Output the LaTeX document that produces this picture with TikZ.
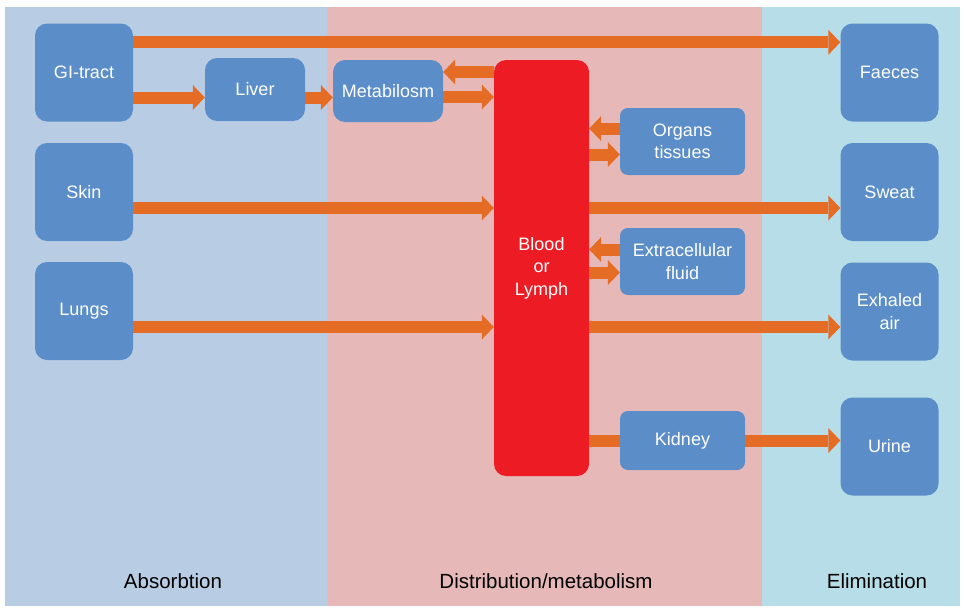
\documentclass[tikz,border=0pt]{standalone}
\usepackage{fontspec}
\setmainfont{Liberation Sans}
\usetikzlibrary{arrows.meta}

\definecolor{absorb}{RGB}{184,204,228}
\definecolor{distrib}{RGB}{230,185,184}
\definecolor{elimin}{RGB}{183,222,232}
\definecolor{organ}{RGB}{91,142,201}
\definecolor{flow}{RGB}{228,108,36}
\definecolor{bloodred}{RGB}{237,28,36}

\begin{document}
\begin{tikzpicture}[x=1pt,y=-1pt]
        \tikzstyle{every node}=[font=\fontsize{18}{22.5}\selectfont]
        \tikzstyle{box}=[fill=organ,text=white,rounded corners=12pt,align=center,inner sep=0pt]
        \tikzstyle{big}=[box,minimum width=98pt,minimum height=98pt]
        \tikzstyle{small}=[box,rounded corners=8pt,minimum width=125pt,minimum height=67pt]
        \tikzstyle{arr}=[draw=flow,line width=12pt,-{Triangle[length=12pt,width=25pt,line width=0pt]}]
        \tikzstyle{bar}=[draw=flow,line width=12pt]
        \tikzstyle{phase}=[font=\fontsize{20.5}{24}\selectfont]
        \useasboundingbox (0,0) rectangle (964,608);
        % the three phases
        \fill[absorb] (5,7) rectangle (327,606);
        \fill[distrib] (327,7) rectangle (762,606);
        \fill[elimin] (762,7) rectangle (960,606);
        \node[phase] (ab) at (173,581) {Absorbtion};
        \node[phase] (di) at (546,581) {Distribution/metabolism};
        \node[phase] (el) at (877,581) {Elimination};
        % entry routes
        \node[big] (gi) at (84,72.5) {GI-tract};
        \node[big] (skin) at (84,192) {Skin};
        \node[big] (lungs) at (84,311) {Lungs};
        \node[box,minimum width=100pt,minimum height=63pt] (liver) at (255,89.5) {Liver};
        \node[box,minimum width=110pt,minimum height=62pt] (meta) at (388,91) {Metabilosm};
        \node[box,fill=bloodred,minimum width=95pt,minimum height=416pt] (blood) at (541.5,268) {Blood\\or\\Lymph};
        \node[small] (organs) at (682.5,141.5) {Organs\\tissues};
        \node[small] (extra) at (682.5,261.5) {Extracellular\\fluid};
        \node[small,minimum height=59pt] (kidney) at (682.5,440.5) {Kidney};
        % exits
        \node[big] (faeces) at (889.5,72.5) {Faeces};
        \node[big] (sweat) at (889.5,192) {Sweat};
        \node[big] (exhaled) at (889.5,311.5) {Exhaled\\air};
        \node[big] (urine) at (889.5,446.5) {Urine};
        % flows
        \draw[arr] ([yshift=-19pt]gi.north east) -- ([yshift=-19pt]gi.north east -| faeces.west);
        \draw[arr] ([yshift=-8pt]liver.west -| gi.east) -- ([yshift=-8pt]liver.west);
        \draw[arr] ([yshift=-8pt]liver.east) -- ([yshift=-8pt]liver.east -| meta.west);
        \draw[arr] ([yshift=19pt]meta.east -| blood.west) -- ([yshift=19pt]meta.east);
        \draw[arr] ([yshift=-6pt]meta.east) -- ([yshift=-6pt]meta.east -| blood.west);
        \draw[arr] ([yshift=13pt]organs.west) -- ([yshift=13pt]organs.west -| blood.east);
        \draw[arr] ([yshift=-13pt]organs.west -| blood.east) -- ([yshift=-13pt]organs.west);
        \draw[arr] ([yshift=12pt]extra.west) -- ([yshift=12pt]extra.west -| blood.east);
        \draw[arr] ([yshift=-11pt]extra.west -| blood.east) -- ([yshift=-11pt]extra.west);
        \draw[arr] ([yshift=-16pt]skin.east) -- ([yshift=-16pt]skin.east -| blood.west);
        \draw[arr] ([yshift=-16pt]skin.east -| blood.east) -- ([yshift=-16pt]skin.east -| sweat.west);
        \draw[arr] ([yshift=-16pt]lungs.east) -- ([yshift=-16pt]lungs.east -| blood.west);
        \draw[arr] ([yshift=-16pt]lungs.east -| blood.east) -- ([yshift=-16pt]lungs.east -| exhaled.west);
        \draw[bar] (kidney.west -| blood.east) -- (kidney.west);
        \draw[arr] (kidney.east) -- (kidney.east -| urine.west);
\end{tikzpicture}
\end{document}
